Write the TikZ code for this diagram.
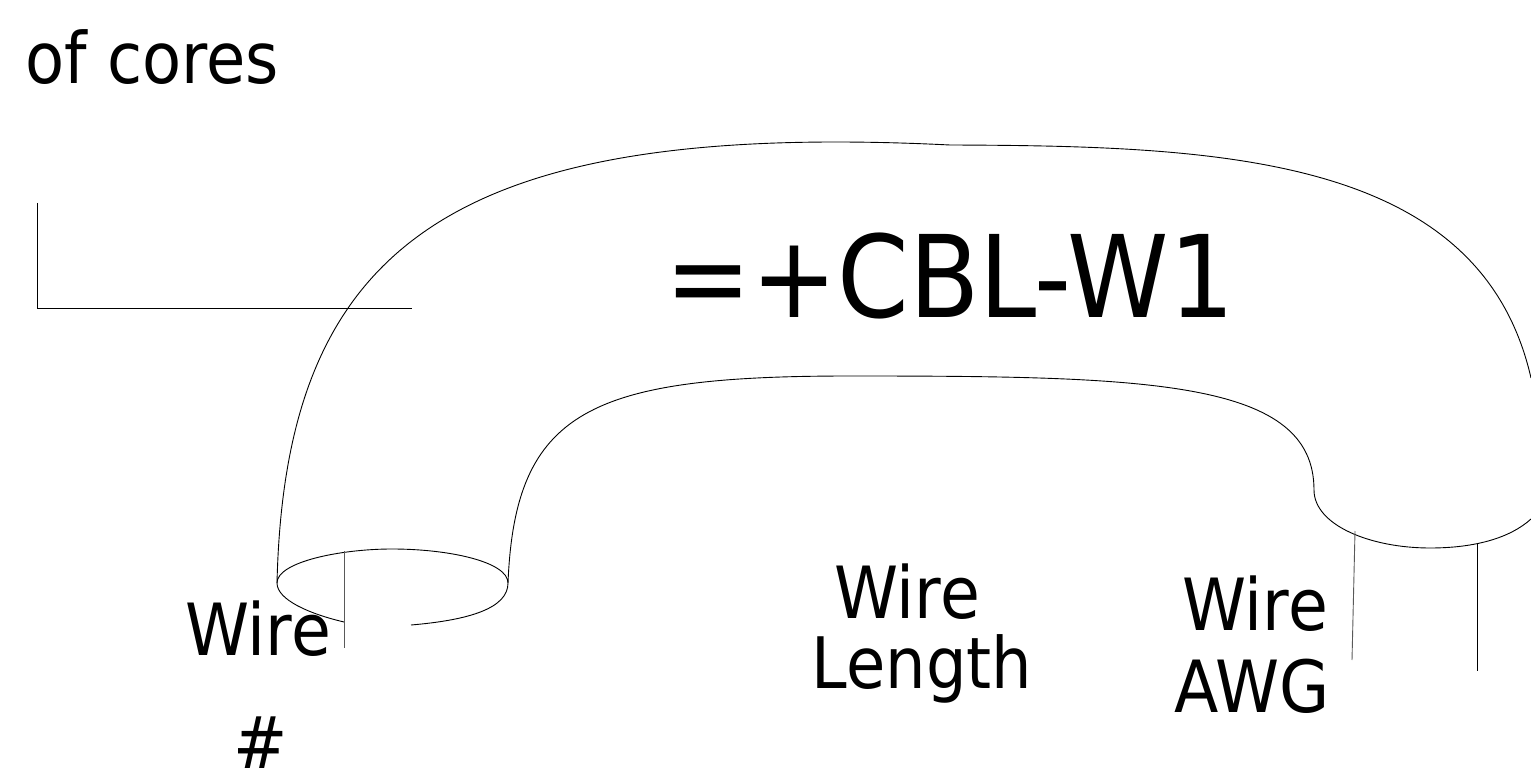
\documentclass[tikz,border=0pt]{standalone}
\usepackage{fontspec}
\setmainfont{DejaVu Sans}[FakeStretch=0.9]
\tikzset{lbl/.style={inner sep=0pt,anchor=base,align=center},wire/.style={draw=black,line width=0.9pt}}
\begin{document}
\begin{tikzpicture}[x=1pt,y=-1pt]
\useasboundingbox (0,0) rectangle (1531,783);
\node[lbl,font=\fontsize{71}{71}\selectfont] (cores) at (152,84) {of cores};
\node[lbl,font=\fontsize{114}{114}\selectfont] (cbl) at (950,318) {=+CBL-W1};
\node[lbl,font=\fontsize{72}{72}\selectfont] (w1) at (258,655) {Wire};
\node[lbl,font=\fontsize{72}{72}\selectfont] (hash) at (261,768) {\#};
\node[lbl,font=\fontsize{72}{72}\selectfont] (w2) at (907,618) {Wire};
\node[lbl,font=\fontsize{71}{71}\selectfont] (len) at (922,688) {Length};
\node[lbl,font=\fontsize{72}{72}\selectfont] (w3) at (1255,630) {Wire};
\node[lbl,font=\fontsize{72}{72}\selectfont] (awg) at (1252,712) {AWG};
\coordinate (a1) at (37,203);\coordinate (a2) at (37,308);\coordinate (a3) at (412,308);
\draw[wire] (a1) -- (a2) -- (a3);
\coordinate (ol) at (277,583);\coordinate (ot) at (950,145);\coordinate (or) at (1531,378);
\draw[wire] (ol) .. controls (285,250) and (445,120) .. (ot) .. controls (1220,146) and (1480,155) .. (or);
\coordinate (il) at (508,583);\coordinate (it) at (850,376);\coordinate (ir) at (1314,490);
\draw[wire] (il) .. controls (515,410) and (590,376) .. (it) .. controls (1150,376) and (1314,380) .. (ir);
\coordinate (eb) at (344,622);\coordinate (eo) at (411,625);
\draw[wire] (ol) .. controls (277,562) and (340,549) .. (392,549) .. controls (450,549) and (508,562) .. (il) .. controls (508,608) and (470,620) .. (eo);
\draw[wire] (ol) .. controls (277,600) and (310,614) .. (eb);
\draw[wire,gray!70!black] (344,551) -- (344,648);
\coordinate (re) at (1531,519);
\draw[wire] (ir) .. controls (1314,525) and (1370,548) .. (1430,548) .. controls (1475,548) and (1510,538) .. (re);
\draw[wire,gray!70!black] (1355,531) -- (1352,660);
\draw[wire] (1477,544) -- (1477,671);
\end{tikzpicture}
\end{document}
